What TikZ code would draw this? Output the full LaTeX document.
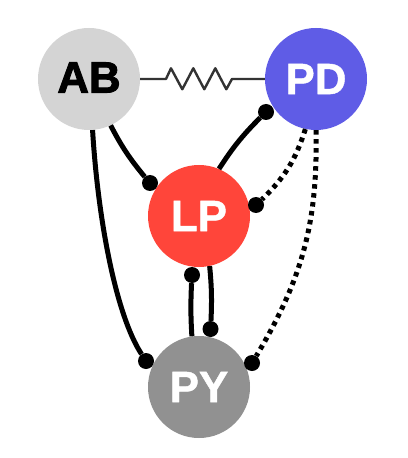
\documentclass[tikz,border=0pt]{standalone}
\usepackage{fontspec}
\setmainfont{Liberation Sans}
\newfontfamily\heavyface[FakeBold=2]{Liberation Sans Bold}
\newfontfamily\boldface[FakeBold=1]{Liberation Sans Bold}
\begin{document}
\begin{tikzpicture}[x=1bp,y=-1bp,
  cell/.style={circle,minimum size=102bp,inner sep=0pt,font=\fontsize{44}{44}\selectfont\boldface,text=white},
  syn/.style={circle,fill=black,minimum size=16bp,inner sep=0pt},
  link/.style={line width=5bp,black},
  dotlink/.style={link,dash pattern=on 4.5bp off 4.5bp},
  gap/.style={line width=2.4bp,draw=black!80,line join=round}]
\useasboundingbox (0,0) rectangle (407,458);
\node[cell,fill={rgb,255:red,212;green,212;blue,212},text=black,font=\fontsize{44}{44}\selectfont\heavyface] (AB) at (89,79) {\raisebox{3bp}{AB}};
\node[cell,fill={rgb,255:red,95;green,92;blue,230}] (PD) at (316,79) {PD};
\node[cell,fill={rgb,255:red,255;green,69;blue,58}] (LP) at (199,216) {LP};
\node[cell,fill={rgb,255:red,145;green,145;blue,145}] (PY) at (199,387) {PY};
\node[syn] (s1) at (150,183) {};
\node[syn] (s2) at (146,361) {};
\node[syn] (s3) at (266,112) {};
\node[syn] (s4) at (256,205) {};
\node[syn] (s5) at (252,363) {};
\node[syn] (s6) at (192,275) {};
\node[syn] (s7) at (210.5,329) {};
\draw[link] (AB.-65) to[bend right=6] (s1);
\draw[link] (AB.-86) .. controls (98,220) and (116,315) .. (s2);
\draw[link] (LP.67) to[bend left=6] (s3);
\draw[dotlink] (PD.-102) to[bend left=14] (s4);
\draw[dotlink] (PD.-90) to[bend left=16] (s5);
\draw[link] (s6) to[bend right=3] (PY.98);
\draw[link] (LP.-78) to[bend left=4] (s7);
\coordinate (z1) at (166,79);
\coordinate (z2) at (232,79);
\draw[gap] (AB.east |- z1) -- (z1) -- (171,68.3) -- (182.3,89.3) -- (193.3,68.3) -- (204.3,89.3) -- (215.3,68.3) -- (226.3,89.3) -- (z2) -- (PD.west |- z2);
\end{tikzpicture}
\end{document}
